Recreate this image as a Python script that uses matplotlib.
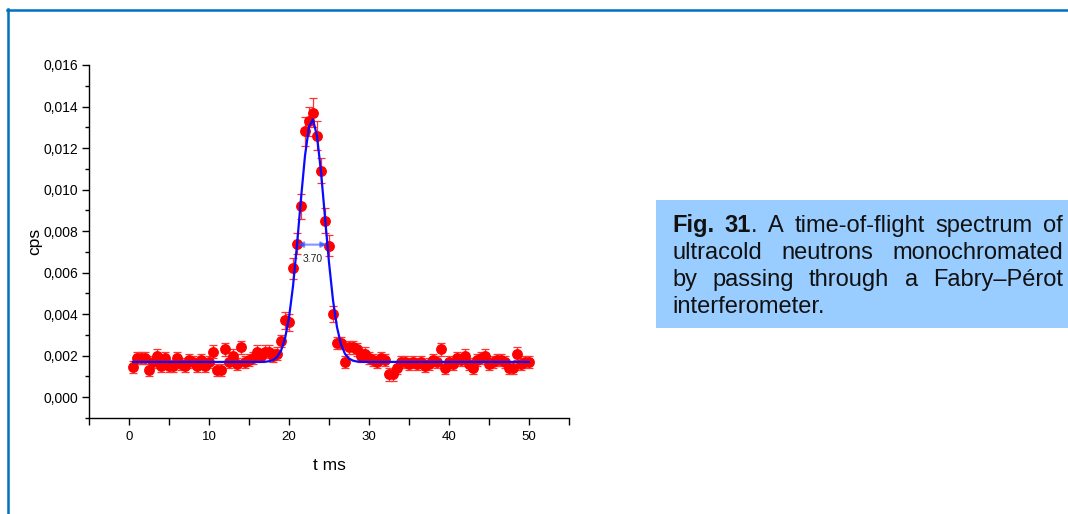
import numpy as np
import matplotlib
matplotlib.use("Agg")
import matplotlib.pyplot as plt
from matplotlib.ticker import MultipleLocator, FuncFormatter
from matplotlib.lines import Line2D
from matplotlib.patches import Rectangle

plt.rcParams['font.family'] = ['Liberation Sans', 'DejaVu Sans']

# ---------------- data ----------------
t_ms = np.arange(0.5, 50.01, 0.5)
cps = [0.00145, 0.0019, 0.0019, 0.0019, 0.0013, 0.0017, 0.0020, 0.0015, 0.0019, 0.0015,
       0.0015, 0.0019, 0.0016, 0.0015, 0.0018, 0.0017, 0.0015, 0.0018, 0.0015, 0.0017,
       0.0022, 0.0013, 0.0013, 0.0023, 0.0017, 0.0020, 0.0016, 0.0024, 0.0017, 0.0018,
       0.0019, 0.0022, 0.0020, 0.0022, 0.0022, 0.0020, 0.0021, 0.0027, 0.0037, 0.0036,
       0.0062, 0.0074, 0.0092, 0.0128, 0.0133, 0.0137, 0.0126, 0.0109, 0.0085, 0.0073,
       0.0040, 0.0026, 0.0026, 0.0017, 0.0024, 0.0024, 0.0023, 0.0020, 0.0021, 0.0019,
       0.0018, 0.0017, 0.0019, 0.0018, 0.0011, 0.0011, 0.0014, 0.0017, 0.0017, 0.0016,
       0.0017, 0.0016, 0.0017, 0.0015, 0.0016, 0.0018, 0.0017, 0.0023, 0.0014, 0.0017,
       0.0016, 0.0019, 0.0018, 0.0020, 0.0016, 0.0014, 0.0018, 0.0019, 0.0020, 0.0016,
       0.0017, 0.0018, 0.0018, 0.0017, 0.0014, 0.0014, 0.0021, 0.0016, 0.0017, 0.0017]
cps_err = [0.0003, 0.0003, 0.0003, 0.0003, 0.0003, 0.0003, 0.0003, 0.0003, 0.0003, 0.0003,
           0.0003, 0.0003, 0.0003, 0.0003, 0.0003, 0.0003, 0.0003, 0.0003, 0.0003, 0.0003,
           0.0003, 0.0003, 0.0003, 0.0003, 0.0003, 0.0003, 0.0003, 0.0003, 0.0003, 0.0003,
           0.0003, 0.0003, 0.0003, 0.0003, 0.0003, 0.0003, 0.0003, 0.0003, 0.0004, 0.0004,
           0.0005, 0.0005, 0.0006, 0.0007, 0.0007, 0.0007, 0.0007, 0.0006, 0.0006, 0.0005,
           0.0004, 0.0003, 0.0003, 0.0003, 0.0003, 0.0003, 0.0003, 0.0003, 0.0003, 0.0003,
           0.0003, 0.0003, 0.0003, 0.0003, 0.0003, 0.0003, 0.0003, 0.0003, 0.0003, 0.0003,
           0.0003, 0.0003, 0.0003, 0.0003, 0.0003, 0.0003, 0.0003, 0.0003, 0.0003, 0.0003,
           0.0003, 0.0003, 0.0003, 0.0003, 0.0003, 0.0003, 0.0003, 0.0003, 0.0003, 0.0003,
           0.0003, 0.0003, 0.0003, 0.0003, 0.0003, 0.0003, 0.0003, 0.0003, 0.0003, 0.0003]

# Gaussian fit parameters (FWHM shown on the chart)
fit_base = 0.0017
fit_amp = 0.0117
fit_center = 22.9
fit_fwhm = 3.70
fwhm_label = "3.70"

caption_lines = [
    [[("Fig.", "bold")], [("31", "bold"), (".", "normal")], [("A", "normal")],
     [("time-of-flight", "normal")], [("spectrum", "normal")], [("of", "normal")]],
    [[("ultracold", "normal")], [("neutrons", "normal")], [("monochromated", "normal")]],
    [[("by", "normal")], [("passing", "normal")], [("through", "normal")], [("a", "normal")],
     [("Fabry–Pérot", "normal")]],
    [[("interferometer.", "normal")]],
]

# ---------------- figure ----------------
W, H = 1068, 514
fig = plt.figure(figsize=(W / 100, H / 100), dpi=100)
fig.patch.set_facecolor("white")

def fx(px):
    return px / W

def fy(py):
    return 1 - py / H

ax = fig.add_axes([fx(89), fy(418), fx(569) - fx(89), fy(65) - fy(418)])
ax.set_xlim(-5, 55)
ax.set_ylim(-0.001, 0.016)
ax.spines['top'].set_visible(False)
ax.spines['right'].set_visible(False)
for s in ('left', 'bottom'):
    ax.spines[s].set_linewidth(1.0)
ax.xaxis.set_major_locator(MultipleLocator(10))
ax.xaxis.set_minor_locator(MultipleLocator(5))
ax.yaxis.set_major_locator(MultipleLocator(0.002))
ax.yaxis.set_minor_locator(MultipleLocator(0.001))
ax.yaxis.set_major_formatter(FuncFormatter(lambda v, p: f"{v:.3f}".replace(".", ",")))
ax.xaxis.set_major_formatter(FuncFormatter(lambda v, p: f"{v:.0f}"))
ax.tick_params(which='major', direction='out', length=5, width=1, pad=3)
ax.tick_params(axis='y', which='major', labelsize=10)
ax.tick_params(axis='x', which='major', labelsize=9.5, pad=4)
ax.tick_params(which='minor', direction='out', length=3, width=1)
ax.tick_params(axis='x', which='minor', length=5)

ax.errorbar(t_ms, cps, yerr=cps_err, fmt='o', color='red', ecolor=(1, 0.2, 0.2),
            markersize=6.8, elinewidth=0.9, capsize=3, capthick=0.9, zorder=2)

t_arr = np.asarray(t_ms)
sigma = fit_fwhm / (2 * np.sqrt(2 * np.log(2)))
fit_y = fit_base + fit_amp * np.exp(-(t_arr - fit_center) ** 2 / (2 * sigma ** 2))
ax.plot(t_arr, fit_y, color='#0a0aff', lw=1.6, zorder=3)

half = fit_base + fit_amp / 2 - 0.0002
ax.annotate("", xy=(fit_center - fit_fwhm / 2, half), xytext=(fit_center + fit_fwhm / 2, half),
            arrowprops=dict(arrowstyle='<|-|>', color='#3050ff', alpha=0.6, lw=1.5,
                            mutation_scale=8, shrinkA=0, shrinkB=0), zorder=4)
ax.text(fit_center + 0.1, half - 0.0007, fwhm_label, ha='center', va='center',
        fontsize=7.5, color='#222222')

ax.set_xlabel("t ms", fontsize=12.5, labelpad=11)
ax.set_ylabel("cps", fontsize=12.5, labelpad=0.5)

# border lines
border = '#0070c0'
fig.add_artist(Line2D([fx(7), fx(W)], [fy(9.5), fy(9.5)], color=border, lw=1.8))
fig.add_artist(Line2D([fx(8), fx(8)], [fy(8.6), fy(H)], color=border, lw=1.8))

# caption box
fig.add_artist(Rectangle((fx(656), fy(328)), fx(W) - fx(656), fy(200) - fy(328),
                         facecolor='#99ccff', edgecolor='none', zorder=0))

fig.canvas.draw()
renderer = fig.canvas.get_renderer()
fs = 17
left_px, right_px = 672, 1063
base_y = [232, 259, 286, 313]

def seg_width(text, weight):
    tt = fig.text(0, 0, text, fontsize=fs, fontweight=weight)
    bb = tt.get_window_extent(renderer)
    tt.remove()
    return bb.width

for li, words in enumerate(caption_lines):
    widths = [sum(seg_width(s, w) for s, w in word) for word in words]
    if li < len(caption_lines) - 1 and len(words) > 1:
        gap = (right_px - left_px - sum(widths)) / (len(words) - 1)
    else:
        gap = seg_width("a a", "normal") - 2 * seg_width("a", "normal")
    x = left_px
    for word, wd in zip(words, widths):
        xx = x
        for s, w in word:
            fig.text(fx(xx), fy(base_y[li]), s, fontsize=fs, fontweight=w,
                     ha='left', va='baseline', color='#111111')
            xx += seg_width(s, w)
        x += wd + gap

fig.savefig("out.png", dpi=100)
